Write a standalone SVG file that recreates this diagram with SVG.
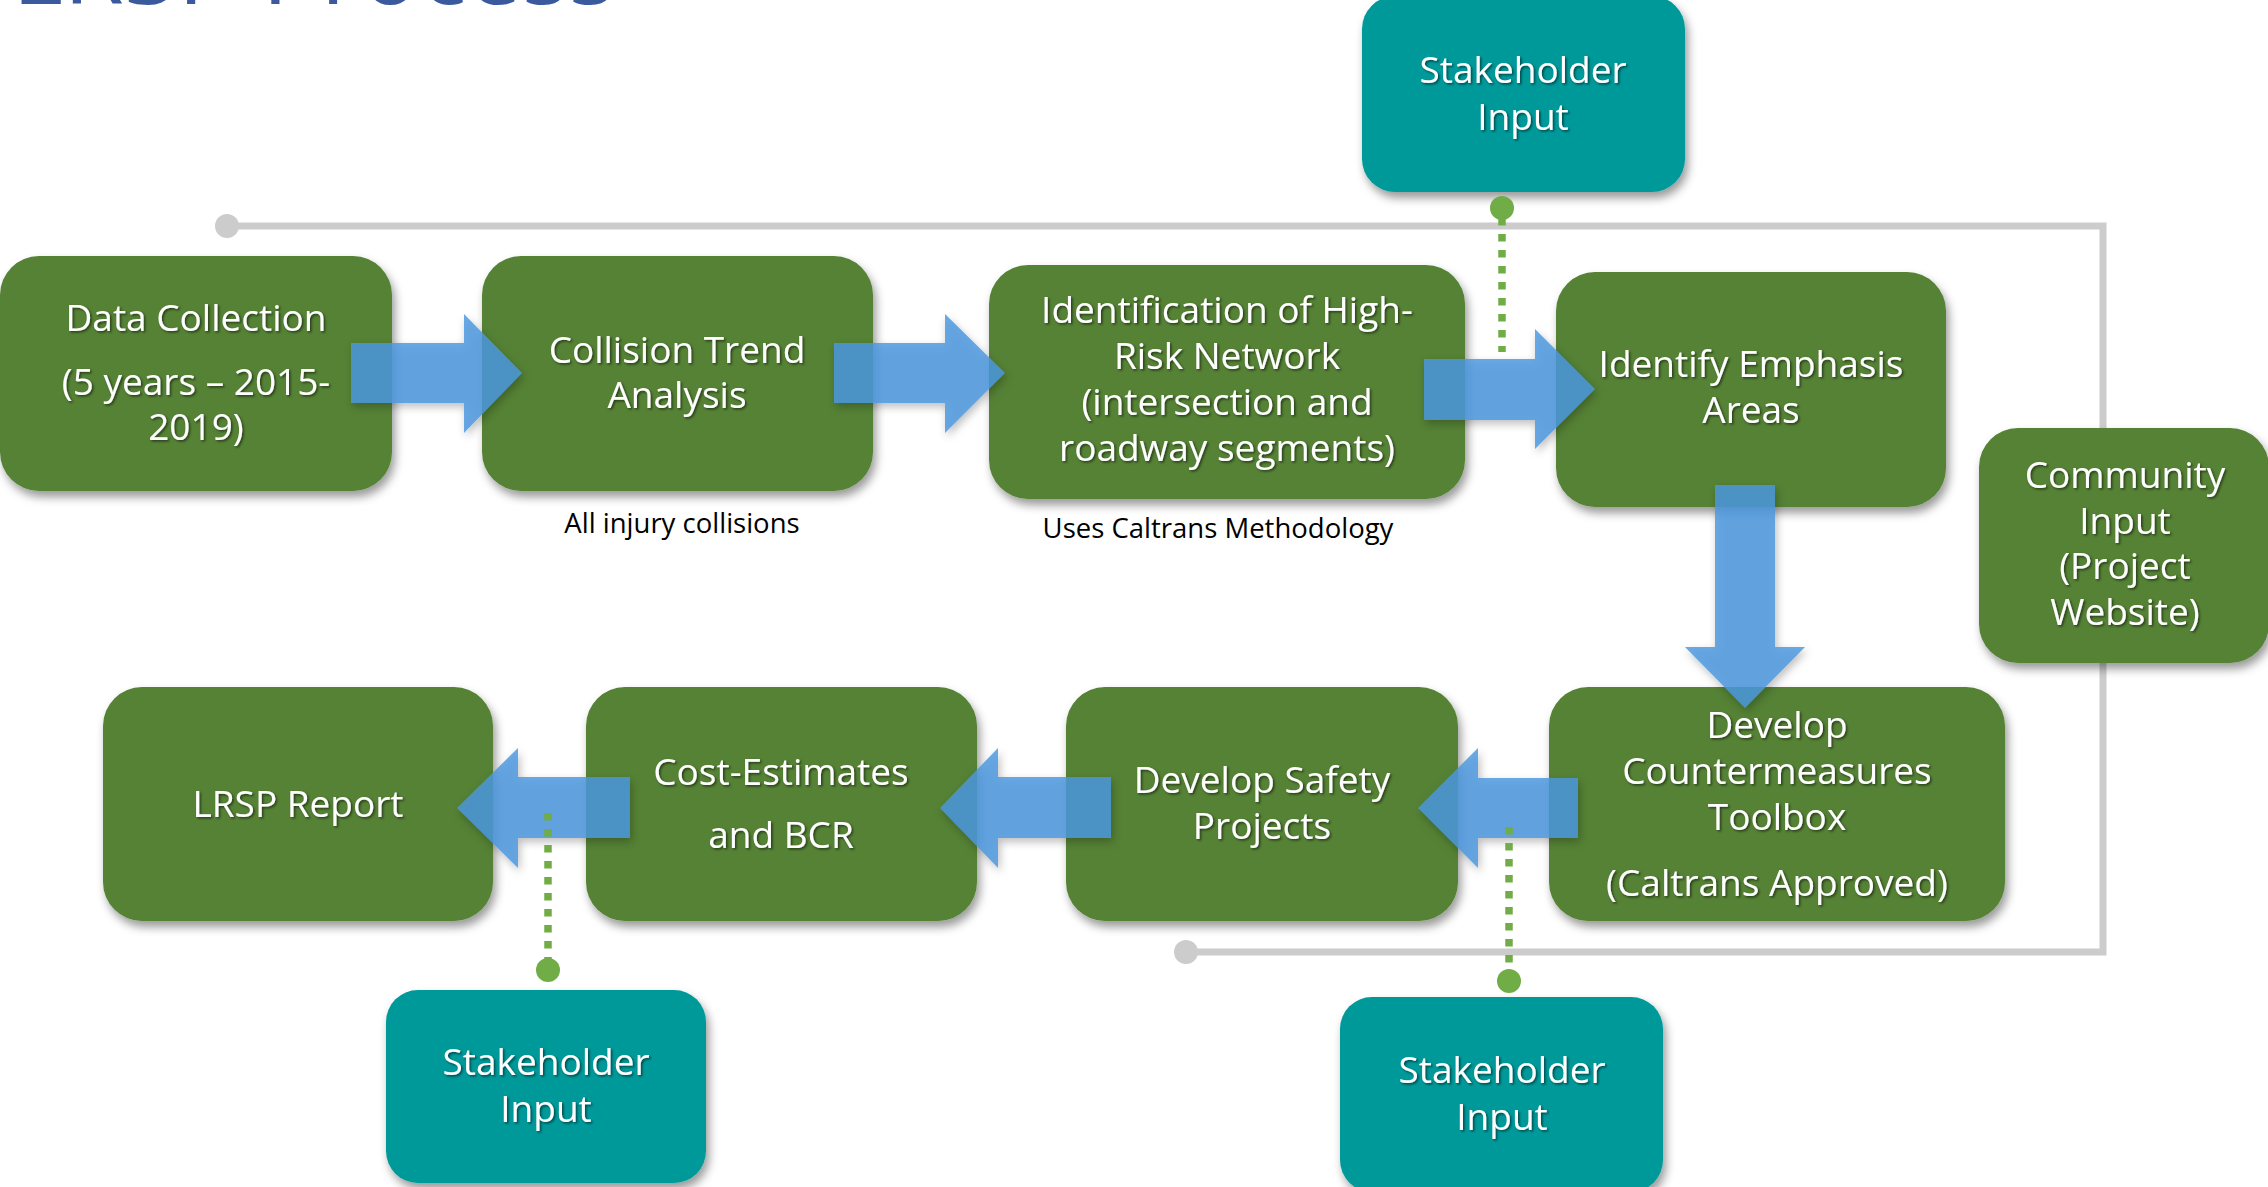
<svg xmlns="http://www.w3.org/2000/svg" width="2268" height="1187" viewBox="0 0 2268 1187">
<defs>
<filter id="sh" x="-10%" y="-10%" width="125%" height="130%">
<feDropShadow dx="3" dy="6" stdDeviation="5" flood-color="#000" flood-opacity="0.4"/>
</filter>
<filter id="ash" x="-10%" y="-10%" width="125%" height="130%">
<feDropShadow dx="2" dy="4" stdDeviation="4" flood-color="#000" flood-opacity="0.3"/>
</filter>
<filter id="tsh" x="-5%" y="-20%" width="110%" height="150%">
<feDropShadow dx="1.5" dy="1.5" stdDeviation="1" flood-color="#000" flood-opacity="0.55"/>
</filter>
<style>
.g{fill:#548235;filter:url(#sh)}
.t{fill:#00999A;filter:url(#sh)}
.bt{font-family:"Open Sans","Liberation Sans",sans-serif;font-size:37px;fill:#fff;text-anchor:middle;filter:url(#tsh)}
.lb{font-family:"Open Sans","Liberation Sans",sans-serif;font-size:27.5px;fill:#000;text-anchor:middle}
.ar{fill:#4B98DE;fill-opacity:0.83;filter:url(#ash)}
.dl{stroke:#70AD47;stroke-width:7.5;stroke-dasharray:7.5 8.5;fill:none}
.dd{fill:#70AD47}
.gl{stroke:#CCCCCC;stroke-width:7;fill:none}
.gd{fill:#CCCCCC}
</style>
</defs>
<rect width="2268" height="1187" fill="#fff"/>
<text x="12" y="4" font-family="'Open Sans','Liberation Sans',sans-serif" font-size="98" fill="#3B5A9E">LRSP Process</text>

<g id="feedback-loop">
<path class="gl" d="M227,226 H2103 V952 H1186"/>
<circle class="gd" cx="227" cy="226" r="12"/>
<circle class="gd" cx="1186" cy="952" r="12"/>
</g>

<g id="data-collection">
<rect class="g" x="0" y="256" width="392" height="235" rx="39"/>
<text class="bt" x="196" y="331">Data Collection</text>
<text class="bt" x="196" y="395">(5 years – 2015-</text>
<text class="bt" x="196" y="440">2019)</text>
</g>
<g id="collision-trend">
<rect class="g" x="482" y="256" width="391" height="235" rx="39"/>
<text class="bt" x="677" y="363">Collision Trend</text>
<text class="bt" x="677" y="408">Analysis</text>
</g>
<g id="high-risk-network">
<rect class="g" x="989" y="265" width="476" height="234" rx="39"/>
<text class="bt" x="1227" y="323">Identification of High-</text>
<text class="bt" x="1227" y="369">Risk Network</text>
<text class="bt" x="1227" y="415">(intersection and</text>
<text class="bt" x="1227" y="461">roadway segments)</text>
</g>
<g id="emphasis-areas">
<rect class="g" x="1556" y="272" width="390" height="235" rx="39"/>
<text class="bt" x="1751" y="377">Identify Emphasis</text>
<text class="bt" x="1751" y="423">Areas</text>
</g>
<g id="community-input">
<rect class="g" x="1979" y="428" width="290" height="235" rx="39"/>
<text class="bt" x="2125" y="488">Community</text>
<text class="bt" x="2125" y="534">Input</text>
<text class="bt" x="2125" y="579">(Project</text>
<text class="bt" x="2125" y="625">Website)</text>
</g>
<g id="countermeasures">
<rect class="g" x="1549" y="687" width="456" height="234" rx="39"/>
<text class="bt" x="1777" y="738">Develop</text>
<text class="bt" x="1777" y="784">Countermeasures</text>
<text class="bt" x="1777" y="830">Toolbox</text>
<text class="bt" x="1777" y="896">(Caltrans Approved)</text>
</g>
<g id="safety-projects">
<rect class="g" x="1066" y="687" width="392" height="234" rx="39"/>
<text class="bt" x="1262" y="793">Develop Safety</text>
<text class="bt" x="1262" y="839">Projects</text>
</g>
<g id="cost-estimates">
<rect class="g" x="586" y="687" width="391" height="234" rx="39"/>
<text class="bt" x="781" y="785">Cost-Estimates</text>
<text class="bt" x="781" y="848">and BCR</text>
</g>
<g id="lrsp-report">
<rect class="g" x="103" y="687" width="390" height="234" rx="39"/>
<text class="bt" x="298" y="817">LRSP Report</text>
</g>
<g id="stakeholder-top">
<rect class="t" x="1362" y="-4" width="323" height="196" rx="33"/>
<text class="bt" x="1523" y="83">Stakeholder</text>
<text class="bt" x="1523" y="130">Input</text>
</g>
<g id="stakeholder-bottom-left">
<rect class="t" x="386" y="990" width="320" height="193" rx="32"/>
<text class="bt" x="546" y="1075">Stakeholder</text>
<text class="bt" x="546" y="1122">Input</text>
</g>
<g id="stakeholder-bottom-right">
<rect class="t" x="1340" y="997" width="323" height="195" rx="32"/>
<text class="bt" x="1502" y="1083">Stakeholder</text>
<text class="bt" x="1502" y="1130">Input</text>
</g>

<g id="connectors">
<path class="ar" d="M351,343 H464 V314 L522,373 L464,433 V403 H351 Z"/>
<path class="ar" d="M834,343 H945 V314 L1005,373 L945,433 V403 H834 Z"/>
<path class="ar" d="M1424,359 H1535 V329 L1595,389 L1535,449 V420 H1424 Z"/>
<path class="ar" d="M1715,485 V647 H1685 L1745,708 L1805,647 H1775 V485 Z"/>
<path class="ar" d="M1578,778 H1478 V748 L1418,808 L1478,868 V838 H1578 Z"/>
<path class="ar" d="M1111,777 H998 V748 L940,808 L998,868 V838 H1111 Z"/>
<path class="ar" d="M630,777 H518 V748 L457,808 L518,868 V838 H630 Z"/>
<line class="dl" x1="1502" y1="218" x2="1502" y2="352"/>
<circle class="dd" cx="1502" cy="208" r="12"/>
<line class="dl" x1="548" y1="813" x2="548" y2="960"/>
<circle class="dd" cx="548" cy="970" r="12"/>
<line class="dl" x1="1509" y1="827" x2="1509" y2="971"/>
<circle class="dd" cx="1509" cy="981" r="12"/>
</g>

<text class="lb" x="682" y="533">All injury collisions</text>
<text class="lb" x="1218" y="538">Uses Caltrans Methodology</text>
</svg>
